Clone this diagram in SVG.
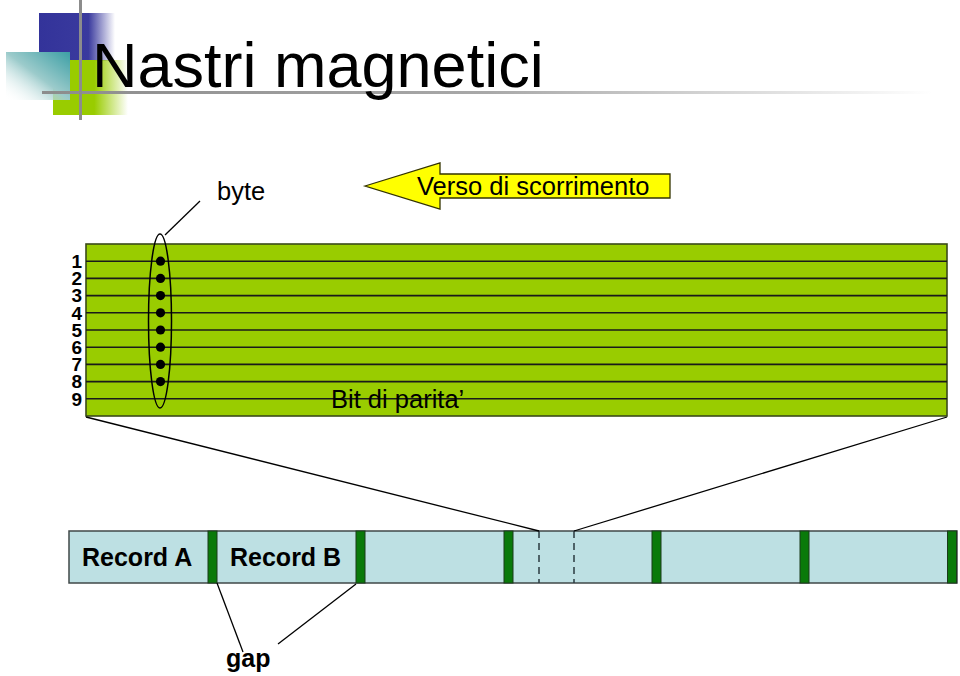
<svg xmlns="http://www.w3.org/2000/svg" width="960" height="676" viewBox="0 0 960 676">
<defs>
<linearGradient id="gBlue" x1="0" y1="0" x2="1" y2="0">
<stop offset="0" stop-color="#33339A"/><stop offset="0.65" stop-color="#3A3A9E"/><stop offset="1" stop-color="#3A3A9E" stop-opacity="0"/>
</linearGradient>
<linearGradient id="gTeal" x1="0" y1="1" x2="1" y2="0">
<stop offset="0" stop-color="#FFFFFF" stop-opacity="0"/><stop offset="0.5" stop-color="#9CCBCB"/><stop offset="1" stop-color="#3C9FA5"/>
</linearGradient>
<linearGradient id="gGreen" x1="0" y1="0" x2="1" y2="0">
<stop offset="0" stop-color="#99CC00"/><stop offset="0.55" stop-color="#99CC00"/><stop offset="1" stop-color="#99CC00" stop-opacity="0"/>
</linearGradient>
<linearGradient id="gLine" x1="0" y1="0" x2="1" y2="0">
<stop offset="0" stop-color="#8C8C8C"/><stop offset="0.5" stop-color="#A8A8A8"/><stop offset="1" stop-color="#FFFFFF"/>
</linearGradient>
<style>
.t{font-family:"Liberation Sans",Arial,sans-serif;fill:#000}
.num{font-family:"Liberation Sans",Arial,sans-serif;font-weight:bold;font-size:19px;text-anchor:end}
.rec{font-family:"Liberation Sans",Arial,sans-serif;font-weight:bold;font-size:25px}
.band{stroke:#1A1A1A;stroke-width:1.6}
.gapbar{fill:#0A7A0A;stroke:#1A3A1A;stroke-width:1}
.ln{stroke:#000;stroke-width:1.3;fill:none}
</style>
</defs>
<rect width="960" height="676" fill="#FFFFFF"/>
<g id="logo">
<rect x="39" y="13" width="76" height="48" fill="url(#gBlue)"/>
<rect x="53" y="60" width="75" height="55" fill="url(#gGreen)"/>
<rect x="6" y="52" width="64" height="48" fill="url(#gTeal)"/>
<rect x="42" y="91" width="890" height="3" fill="url(#gLine)"/>
<rect x="79" y="0" width="3" height="120" fill="#8C8C8C"/>
</g>
<g id="title"><text class="t" x="92" y="87" font-size="63">Nastri magnetici</text></g>
<g id="tape">
<rect x="86" y="244" width="861" height="172" fill="#99CC00" stroke="#3A4A1A" stroke-width="1.6"/>
<g class="band">
<line x1="86" y1="261.2" x2="947" y2="261.2"/>
<line x1="86" y1="278.4" x2="947" y2="278.4"/>
<line x1="86" y1="295.6" x2="947" y2="295.6"/>
<line x1="86" y1="312.8" x2="947" y2="312.8"/>
<line x1="86" y1="330" x2="947" y2="330"/>
<line x1="86" y1="347.2" x2="947" y2="347.2"/>
<line x1="86" y1="364.4" x2="947" y2="364.4"/>
<line x1="86" y1="381.6" x2="947" y2="381.6"/>
<line x1="86" y1="398.8" x2="947" y2="398.8"/>
</g>
</g>
<g id="track-numbers">
<text class="num" x="82" y="268">1</text>
<text class="num" x="82" y="285.2">2</text>
<text class="num" x="82" y="302.4">3</text>
<text class="num" x="82" y="319.6">4</text>
<text class="num" x="82" y="336.8">5</text>
<text class="num" x="82" y="354">6</text>
<text class="num" x="82" y="371.2">7</text>
<text class="num" x="82" y="388.4">8</text>
<text class="num" x="82" y="405.6">9</text>
</g>
<g id="byte">
<g fill="#000">
<circle cx="160.5" cy="261.2" r="4.6"/>
<circle cx="160.5" cy="278.4" r="4.6"/>
<circle cx="160.5" cy="295.6" r="4.6"/>
<circle cx="160.5" cy="312.8" r="4.6"/>
<circle cx="160.5" cy="330" r="4.6"/>
<circle cx="160.5" cy="347.2" r="4.6"/>
<circle cx="160.5" cy="364.4" r="4.6"/>
<circle cx="160.5" cy="381.6" r="4.6"/>
</g>
<ellipse cx="160" cy="321" rx="11.5" ry="87" fill="none" stroke="#000" stroke-width="1.5"/>
<text class="t" x="217" y="200" font-size="25.5">byte</text>
</g>
<g id="arrow">
<polygon points="365,186 440,163 440,174 670,174 670,198 440,198 440,209" fill="#FFFF00" stroke="#333300" stroke-width="1.3"/>
<text class="t" x="417" y="195" font-size="25.5">Verso di scorrimento</text>
</g>
<g id="parity"><text class="t" x="331" y="408" font-size="25.5">Bit di parita’</text></g>
<g id="records">
<rect x="69" y="531" width="888" height="52" fill="#BDE0E3" stroke="#404848" stroke-width="1.5"/>
<rect class="gapbar" x="208" y="531" width="9" height="52"/>
<rect class="gapbar" x="356" y="531" width="9" height="52"/>
<rect class="gapbar" x="504" y="531" width="9" height="52"/>
<rect class="gapbar" x="652" y="531" width="9" height="52"/>
<rect class="gapbar" x="800" y="531" width="9" height="52"/>
<rect class="gapbar" x="947.5" y="531" width="9" height="52"/>
<line x1="539" y1="531" x2="539" y2="583" stroke="#2A3A40" stroke-width="1.5" stroke-dasharray="7,5"/>
<line x1="574" y1="531" x2="574" y2="583" stroke="#2A3A40" stroke-width="1.5" stroke-dasharray="7,5"/>
<text class="rec" x="82" y="566">Record A</text>
<text class="rec" x="230" y="566">Record B</text>
<text class="rec" x="226" y="667">gap</text>
</g>
<g id="connectors">
<line class="ln" x1="165" y1="235" x2="200" y2="201"/>
<line class="ln" x1="86" y1="417" x2="539" y2="531"/>
<line class="ln" x1="947" y1="417" x2="574" y2="531"/>
<line class="ln" x1="217" y1="583" x2="243" y2="652"/>
<line class="ln" x1="356" y1="584" x2="278" y2="644"/>
</g>
</svg>
